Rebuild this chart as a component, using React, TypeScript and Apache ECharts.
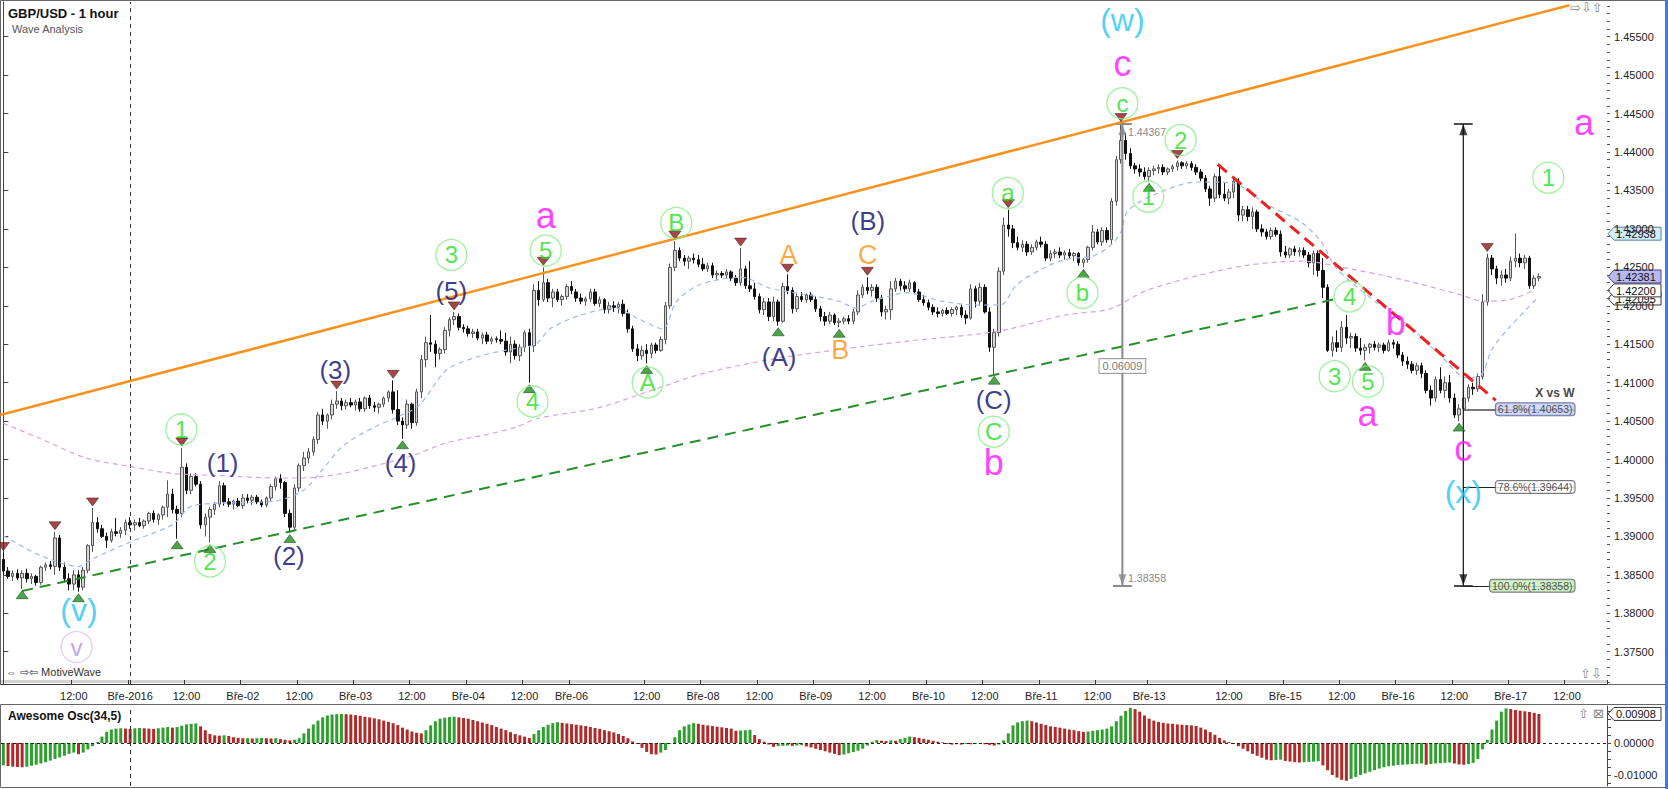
import React, { useEffect, useRef } from 'react';
import * as echarts from 'echarts';

// ---------- DATA ----------
// candles: [open, close, low, high] per hourly bar
const candlesA = [
[1.3870,1.3855,1.3850,1.3879],[1.3855,1.3848,1.3845,1.3860],[1.3848,1.3852,1.3842,1.3856],[1.3852,1.3846,1.3843,1.3857],[1.3846,1.3852,1.3832,1.3856],
[1.3852,1.3845,1.3840,1.3858],[1.3845,1.3848,1.3838,1.3852],[1.3848,1.3840,1.3836,1.3850],[1.3840,1.3860,1.3837,1.3862],[1.3860,1.3863,1.3855,1.3866],
[1.3863,1.3861,1.3857,1.3868],[1.3861,1.3898,1.3850,1.3906],[1.3898,1.3860,1.3855,1.3902],[1.3860,1.3845,1.3840,1.3866],[1.3845,1.3838,1.3830,1.3852],
[1.3838,1.3850,1.3830,1.3856],[1.3850,1.3834,1.3828,1.3856],[1.3834,1.3856,1.3830,1.3860],[1.3856,1.3888,1.3852,1.3890],[1.3888,1.3918,1.3880,1.3937],
[1.3918,1.3910,1.3905,1.3925],[1.3910,1.3900,1.3898,1.3915],[1.3900,1.3895,1.3885,1.3905],[1.3895,1.3906,1.3892,1.3910],[1.3906,1.3904,1.3900,1.3924],
[1.3904,1.3908,1.3898,1.3912],[1.3908,1.3918,1.3902,1.3922],[1.3918,1.3915,1.3910,1.3925],[1.3915,1.3918,1.3908,1.3922],[1.3918,1.3914,1.3912,1.3924],
[1.3914,1.3920,1.3910,1.3922],[1.3920,1.3930,1.3916,1.3932],[1.3930,1.3922,1.3918,1.3934],[1.3922,1.3928,1.3915,1.3930],[1.3928,1.3938,1.3922,1.3940],
[1.3938,1.3955,1.3925,1.3973],[1.3955,1.3935,1.3930,1.3962],[1.3935,1.3930,1.3897,1.3940],[1.3930,1.3990,1.3925,1.4015],[1.3990,1.3960,1.3955,1.3995],
[1.3960,1.3978,1.3955,1.3982],[1.3978,1.3968,1.3965,1.3982],[1.3968,1.3915,1.3910,1.3972],[1.3915,1.3925,1.3900,1.3930],[1.3925,1.3935,1.3892,1.3938],
[1.3935,1.3942,1.3928,1.3945],[1.3942,1.3966,1.3938,1.3972],[1.3966,1.3945,1.3940,1.3970],[1.3945,1.3942,1.3938,1.3950],[1.3942,1.3946,1.3935,1.3948],
[1.3946,1.3940,1.3938,1.3950],[1.3940,1.3950,1.3936,1.3955],[1.3950,1.3947,1.3943,1.3955],[1.3947,1.3951,1.3941,1.3954],[1.3951,1.3945,1.3942,1.3954],
[1.3945,1.3941,1.3938,1.3948],[1.3941,1.3950,1.3938,1.3952],[1.3950,1.3965,1.3946,1.3968],[1.3965,1.3975,1.3960,1.3978],[1.3975,1.3970,1.3962,1.3981],
[1.3970,1.3930,1.3925,1.3972],[1.3930,1.3912,1.3905,1.3935],[1.3912,1.3963,1.3908,1.3968],[1.3963,1.3992,1.3958,1.3995],[1.3992,1.4002,1.3985,1.4010],
[1.4002,1.4010,1.3995,1.4015],[1.4010,1.4026,1.4005,1.4030],[1.4026,1.4058,1.4020,1.4062],[1.4058,1.4050,1.4045,1.4066],[1.4050,1.4058,1.4040,1.4060],
[1.4058,1.4072,1.4052,1.4078],[1.4072,1.4076,1.4066,1.4089],[1.4076,1.4070,1.4064,1.4080],[1.4070,1.4074,1.4065,1.4078],[1.4074,1.4071,1.4068,1.4080],
[1.4071,1.4075,1.4064,1.4078],[1.4075,1.4066,1.4062,1.4080],[1.4066,1.4080,1.4062,1.4082],[1.4080,1.4070,1.4066,1.4084],[1.4070,1.4068,1.4062,1.4075],
[1.4068,1.4072,1.4060,1.4074],[1.4072,1.4080,1.4068,1.4082],[1.4080,1.4088,1.4075,1.4090],[1.4088,1.4065,1.4060,1.4103],[1.4065,1.4050,1.4045,1.4090],
[1.4050,1.4045,1.4027,1.4055],[1.4045,1.4072,1.4040,1.4078],[1.4072,1.4048,1.4040,1.4074],[1.4048,1.4088,1.4044,1.4092],[1.4088,1.4130,1.4080,1.4136],
[1.4130,1.4152,1.4120,1.4160],[1.4152,1.4150,1.4140,1.4188],[1.4150,1.4138,1.4120,1.4155],[1.4138,1.4143,1.4130,1.4146],[1.4143,1.4168,1.4138,1.4172],
[1.4168,1.4182,1.4160,1.4185],[1.4182,1.4186,1.4175,1.4192],[1.4186,1.4172,1.4168,1.4190],[1.4172,1.4170,1.4165,1.4176],[1.4170,1.4164,1.4160,1.4174],
[1.4164,1.4166,1.4158,1.4170],[1.4166,1.4158,1.4155,1.4170],[1.4158,1.4162,1.4150,1.4165],[1.4162,1.4154,1.4150,1.4166],[1.4154,1.4157,1.4150,1.4160],
[1.4157,1.4156,1.4152,1.4160],[1.4156,1.4154,1.4150,1.4168],[1.4154,1.4140,1.4135,1.4165],[1.4140,1.4150,1.4125,1.4160],[1.4150,1.4135,1.4130,1.4155],
[1.4135,1.4146,1.4128,1.4150],[1.4146,1.4165,1.4140,1.4168],[1.4165,1.4148,1.4100,1.4170],[1.4148,1.4220,1.4140,1.4228],[1.4220,1.4208,1.4200,1.4232],
[1.4208,1.4230,1.4205,1.4250],[1.4230,1.4210,1.4205,1.4235],[1.4210,1.4218,1.4198,1.4222],[1.4218,1.4208,1.4205,1.4222],[1.4208,1.4212,1.4200,1.4215],
[1.4212,1.4225,1.4208,1.4228]
];
const candlesB = [
[1.4225,1.4220,1.4215,1.4232],[1.4218,1.4210,1.4205,1.4222],[1.4210,1.4206,1.4202,1.4216],[1.4206,1.4209,1.4200,1.4212],[1.4209,1.4218,1.4205,1.4222],
[1.4218,1.4203,1.4200,1.4222],[1.4203,1.4208,1.4198,1.4212],[1.4208,1.4195,1.4190,1.4210],[1.4195,1.4200,1.4190,1.4205],[1.4200,1.4198,1.4192,1.4206],
[1.4198,1.4202,1.4190,1.4205],[1.4202,1.4190,1.4186,1.4208],[1.4190,1.4170,1.4165,1.4195],[1.4170,1.4144,1.4140,1.4174],[1.4144,1.4135,1.4128,1.4150],
[1.4135,1.4142,1.4130,1.4148],[1.4142,1.4138,1.4125,1.4150],[1.4138,1.4149,1.4132,1.4152],[1.4149,1.4142,1.4138,1.4152],[1.4142,1.4156,1.4140,1.4160],
[1.4156,1.4200,1.4150,1.4205],[1.4200,1.4250,1.4196,1.4255],[1.4250,1.4272,1.4245,1.4284],[1.4272,1.4262,1.4258,1.4276],[1.4262,1.4258,1.4252,1.4266],
[1.4258,1.4262,1.4248,1.4265],[1.4262,1.4260,1.4255,1.4268],[1.4260,1.4254,1.4250,1.4266],[1.4254,1.4248,1.4245,1.4262],[1.4248,1.4252,1.4244,1.4256],
[1.4252,1.4240,1.4236,1.4256],[1.4240,1.4242,1.4234,1.4246],[1.4242,1.4240,1.4236,1.4245],[1.4240,1.4244,1.4236,1.4248],[1.4244,1.4236,1.4232,1.4246],
[1.4236,1.4230,1.4226,1.4240],[1.4230,1.4248,1.4226,1.4275],[1.4248,1.4226,1.4222,1.4252],[1.4226,1.4222,1.4218,1.4258],[1.4222,1.4212,1.4208,1.4230],
[1.4212,1.4195,1.4190,1.4216],[1.4195,1.4205,1.4188,1.4210],[1.4205,1.4186,1.4180,1.4210],[1.4186,1.4205,1.4180,1.4212],[1.4205,1.4180,1.4174,1.4208],
[1.4180,1.4225,1.4178,1.4230],[1.4225,1.4220,1.4215,1.4241],[1.4220,1.4196,1.4190,1.4224],[1.4196,1.4212,1.4192,1.4216],[1.4212,1.4208,1.4205,1.4218],
[1.4208,1.4214,1.4204,1.4216],[1.4214,1.4208,1.4205,1.4218],[1.4208,1.4196,1.4192,1.4212],[1.4196,1.4186,1.4180,1.4200],[1.4186,1.4180,1.4174,1.4192],
[1.4180,1.4188,1.4176,1.4192],[1.4188,1.4178,1.4175,1.4190],[1.4178,1.4180,1.4172,1.4184],[1.4180,1.4183,1.4176,1.4186],[1.4183,1.4180,1.4176,1.4188],
[1.4180,1.4192,1.4176,1.4196],[1.4192,1.4214,1.4188,1.4220],[1.4214,1.4224,1.4210,1.4228],[1.4224,1.4220,1.4215,1.4237],[1.4220,1.4224,1.4212,1.4228],
[1.4224,1.4210,1.4205,1.4228],[1.4210,1.4192,1.4186,1.4214],[1.4192,1.4195,1.4182,1.4200],[1.4195,1.4222,1.4182,1.4232],[1.4222,1.4232,1.4218,1.4236],
[1.4232,1.4226,1.4220,1.4235],[1.4226,1.4222,1.4218,1.4232],[1.4222,1.4230,1.4218,1.4234],[1.4230,1.4218,1.4215,1.4232],[1.4218,1.4208,1.4205,1.4222],
[1.4208,1.4204,1.4200,1.4214],[1.4204,1.4198,1.4194,1.4208],[1.4198,1.4192,1.4188,1.4202],[1.4192,1.4190,1.4185,1.4198],[1.4190,1.4194,1.4186,1.4196],
[1.4194,1.4190,1.4188,1.4198],[1.4190,1.4195,1.4186,1.4198],[1.4195,1.4198,1.4188,1.4200],[1.4198,1.4188,1.4184,1.4202],[1.4188,1.4184,1.4176,1.4194],
[1.4184,1.4222,1.4182,1.4228],[1.4222,1.4206,1.4198,1.4226],[1.4206,1.4224,1.4200,1.4230],[1.4224,1.4192,1.4190,1.4228],[1.4192,1.4146,1.4140,1.4198],
[1.4146,1.4165,1.4111,1.4170],[1.4165,1.4245,1.4160,1.4250],[1.4245,1.4305,1.4240,1.4315],[1.4305,1.4300,1.4290,1.4325],[1.4300,1.4282,1.4275,1.4305],
[1.4282,1.4276,1.4272,1.4290],[1.4276,1.4280,1.4270,1.4285],[1.4280,1.4270,1.4265,1.4284],[1.4270,1.4276,1.4266,1.4280],[1.4276,1.4283,1.4272,1.4286],
[1.4283,1.4280,1.4276,1.4290],[1.4280,1.4262,1.4258,1.4284],[1.4262,1.4268,1.4258,1.4272],[1.4268,1.4270,1.4262,1.4274],[1.4270,1.4266,1.4262,1.4276],
[1.4266,1.4269,1.4260,1.4272],[1.4269,1.4265,1.4262,1.4274],[1.4265,1.4268,1.4258,1.4270],[1.4268,1.4256,1.4252,1.4270],[1.4256,1.4260,1.4250,1.4262],
[1.4260,1.4276,1.4256,1.4278],[1.4276,1.4296,1.4272,1.4305],[1.4296,1.4283,1.4280,1.4300],[1.4283,1.4298,1.4278,1.4302],[1.4298,1.4286,1.4282,1.4302],
[1.4286,1.4336,1.4280,1.4340],[1.4336,1.4390,1.4330,1.4395],[1.4390,1.4415,1.4385,1.4437],[1.4415,1.4398,1.4390,1.4425],[1.4398,1.4382,1.4378,1.4405],
[1.4382,1.4378,1.4372,1.4386],[1.4378,1.4374,1.4368,1.4384],[1.4374,1.4368,1.4364,1.4380]
];
const candlesC = [
[1.4368,1.4376,1.4362,1.4380],[1.4376,1.4378,1.4370,1.4382],[1.4378,1.4380,1.4372,1.4384],[1.4380,1.4374,1.4370,1.4384],[1.4374,1.4378,1.4370,1.4380],
[1.4378,1.4381,1.4374,1.4384],[1.4381,1.4386,1.4376,1.4389],[1.4386,1.4382,1.4378,1.4388],[1.4382,1.4385,1.4378,1.4388],[1.4385,1.4380,1.4376,1.4388],
[1.4380,1.4374,1.4370,1.4384],[1.4374,1.4366,1.4362,1.4378],[1.4366,1.4352,1.4348,1.4370],[1.4352,1.4340,1.4330,1.4356],[1.4340,1.4368,1.4335,1.4372],
[1.4368,1.4345,1.4340,1.4384],[1.4345,1.4340,1.4336,1.4360],[1.4340,1.4348,1.4332,1.4352],[1.4348,1.4362,1.4340,1.4366],[1.4362,1.4318,1.4310,1.4366],
[1.4318,1.4325,1.4310,1.4330],[1.4325,1.4316,1.4310,1.4330],[1.4316,1.4322,1.4300,1.4328],[1.4322,1.4300,1.4296,1.4325],[1.4300,1.4296,1.4290,1.4306],
[1.4296,1.4290,1.4286,1.4300],[1.4290,1.4298,1.4286,1.4302],[1.4298,1.4293,1.4290,1.4302],[1.4293,1.4270,1.4264,1.4298],[1.4270,1.4266,1.4262,1.4278],
[1.4266,1.4274,1.4262,1.4276],[1.4274,1.4270,1.4265,1.4278],[1.4270,1.4272,1.4264,1.4276],[1.4272,1.4266,1.4262,1.4276],[1.4266,1.4256,1.4250,1.4270],
[1.4256,1.4268,1.4240,1.4272],[1.4268,1.4246,1.4238,1.4272],[1.4246,1.4224,1.4210,1.4262],[1.4224,1.4142,1.4140,1.4228],[1.4142,1.4152,1.4134,1.4160],
[1.4152,1.4146,1.4140,1.4168],[1.4146,1.4172,1.4140,1.4180],[1.4172,1.4158,1.4150,1.4188],[1.4158,1.4160,1.4145,1.4165],[1.4160,1.4145,1.4140,1.4164],
[1.4145,1.4142,1.4136,1.4158],[1.4142,1.4146,1.4129,1.4150],[1.4146,1.4150,1.4138,1.4152],[1.4150,1.4146,1.4142,1.4154],[1.4146,1.4149,1.4140,1.4152],
[1.4149,1.4142,1.4138,1.4152],[1.4142,1.4152,1.4140,1.4156],[1.4152,1.4150,1.4144,1.4156],[1.4150,1.4136,1.4132,1.4154],[1.4136,1.4128,1.4122,1.4140],
[1.4128,1.4124,1.4118,1.4134],[1.4124,1.4116,1.4112,1.4128],[1.4116,1.4122,1.4110,1.4126],[1.4122,1.4112,1.4106,1.4126],[1.4112,1.4090,1.4086,1.4116],
[1.4090,1.4080,1.4070,1.4096],[1.4080,1.4104,1.4075,1.4108],[1.4104,1.4090,1.4086,1.4120],[1.4090,1.4100,1.4080,1.4108],[1.4100,1.4080,1.4074,1.4110],
[1.4080,1.4058,1.4054,1.4086],[1.4058,1.4066,1.4050,1.4072],[1.4066,1.4080,1.4062,1.4085],[1.4080,1.4094,1.4075,1.4098],[1.4094,1.4092,1.4084,1.4100],
[1.4092,1.4108,1.4088,1.4112],[1.4108,1.4205,1.4104,1.4215],[1.4205,1.4262,1.4200,1.4268],[1.4262,1.4248,1.4240,1.4266],[1.4248,1.4236,1.4228,1.4252],
[1.4236,1.4240,1.4226,1.4246],[1.4240,1.4236,1.4230,1.4248],[1.4236,1.4258,1.4232,1.4264],[1.4258,1.4262,1.4250,1.4294],[1.4262,1.4256,1.4250,1.4268],
[1.4256,1.4262,1.4248,1.4266],[1.4262,1.4226,1.4222,1.4265],[1.4226,1.4236,1.4222,1.4240],[1.4236,1.4238,1.4232,1.4242]
];

// Awesome Oscillator(34,5) bar values
const aoA = [
-0.0070,-0.0072,-0.0074,-0.0075,-0.0076,-0.0074,-0.0071,-0.0068,-0.0064,-0.0060,
-0.0055,-0.0050,-0.0045,-0.0040,-0.0034,-0.0030,-0.0035,-0.0030,-0.0020,-0.0010,
0.0003,0.0020,0.0035,0.0042,0.0045,0.0046,0.0045,0.0044,0.0046,0.0047,
0.0046,0.0045,0.0044,0.0046,0.0048,0.0050,0.0048,0.0050,0.0054,0.0058,
0.0060,0.0061,0.0052,0.0040,0.0028,0.0024,0.0023,0.0024,0.0022,0.0018,
0.0016,0.0015,0.0015,0.0014,0.0015,0.0016,0.0015,0.0014,0.0015,0.0012,
0.0010,0.0008,0.0010,0.0015,0.0030,0.0045,0.0058,0.0070,0.0080,0.0086,
0.0089,0.0090,0.0091,0.0090,0.0089,0.0087,0.0085,0.0082,0.0080,0.0077,
0.0074,0.0070,0.0066,0.0062,0.0056,0.0048,0.0042,0.0036,0.0032,0.0030,
0.0040,0.0055,0.0068,0.0076,0.0079,0.0081,0.0082,0.0080,0.0078,0.0076,
0.0072,0.0068,0.0064,0.0060,0.0056,0.0050,0.0045,0.0040,0.0034,0.0028,
0.0024,0.0020,0.0016,0.0028,0.0040,0.0050,0.0057,0.0062,0.0065,0.0063,
0.0061
];
const aoB = [
0.0059,0.0057,0.0055,0.0053,0.0050,0.0047,0.0044,0.0040,0.0037,0.0033,
0.0028,0.0022,0.0015,0.0005,-0.0003,-0.0015,-0.0028,-0.0035,-0.0036,-0.0030,
-0.0022,-0.0002,0.0018,0.0040,0.0052,0.0058,0.0062,0.0060,0.0057,0.0055,
0.0053,0.0051,0.0049,0.0047,0.0045,0.0038,0.0039,0.0040,0.0041,0.0025,
0.0012,0.0004,-0.0005,-0.0012,-0.0010,-0.0009,-0.0008,-0.0009,-0.0008,-0.0007,
-0.0011,-0.0014,-0.0018,-0.0022,-0.0026,-0.0030,-0.0034,-0.0038,-0.0036,-0.0032,
-0.0028,-0.0024,-0.0018,-0.0008,0.0004,0.0009,0.0007,0.0006,0.0008,0.0007,
0.0012,0.0016,0.0020,0.0018,0.0016,0.0013,0.0010,0.0007,0.0004,0.0002,
-0.0003,-0.0005,-0.0004,-0.0005,-0.0003,-0.0004,-0.0003,-0.0002,-0.0004,-0.0006,
-0.0008,-0.0005,0.0008,0.0030,0.0055,0.0064,0.0068,0.0070,0.0068,0.0064,
0.0060,0.0056,0.0052,0.0050,0.0048,0.0045,0.0042,0.0040,0.0037,0.0035,
0.0036,0.0038,0.0040,0.0042,0.0045,0.0052,0.0068,0.0085,0.0100,0.0110,
0.0106,0.0098,0.0086
];
const aoC = [
0.0076,0.0070,0.0066,0.0063,0.0061,0.0060,0.0058,0.0057,0.0056,0.0055,
0.0053,0.0048,0.0042,0.0034,0.0026,0.0016,0.0008,0.0003,-0.0003,-0.0010,
-0.0018,-0.0026,-0.0034,-0.0040,-0.0046,-0.0052,-0.0054,-0.0053,-0.0052,-0.0056,
-0.0058,-0.0060,-0.0061,-0.0060,-0.0059,-0.0058,-0.0057,-0.0070,-0.0085,-0.0100,
-0.0108,-0.0115,-0.0118,-0.0112,-0.0106,-0.0100,-0.0095,-0.0090,-0.0085,-0.0080,
-0.0076,-0.0073,-0.0071,-0.0069,-0.0068,-0.0067,-0.0066,-0.0065,-0.0064,-0.0068,
-0.0066,-0.0064,-0.0063,-0.0062,-0.0061,-0.0064,-0.0067,-0.0068,-0.0066,-0.0062,
-0.0050,-0.0020,0.0010,0.0042,0.0070,0.0098,0.0108,0.0106,0.0103,0.0101,
0.0099,0.0097,0.0094,0.0091
];

// moving averages read as [bar index, price]
const blueMA = [[0,1.3901],[8,1.3875],[16.1,1.3861],[18.4,1.3869],[27.1,1.3893],[35.9,1.3915],[40.3,1.3940],[50.5,1.3944],[57.9,1.3946],[63.7,1.3959],[67.3,1.3982],[72.4,1.4018],[79.9,1.4045],[83.5,1.4054],[88.6,1.4071],[94.5,1.4117],[101.8,1.4135],[107.7,1.4143],[113.4,1.4150],[116.4,1.4170],[123,1.4188],[130.2,1.4197],[135.3,1.4183],[140.4,1.4170],[143.4,1.4206],[148.5,1.4228],[157.3,1.4237],[163.2,1.4223],[170.5,1.4215],[177.9,1.4206],[181.5,1.4197],[185.1,1.4206],[192.5,1.4217],[199.8,1.4206],[207.2,1.4201],[212.3,1.4201],[215.9,1.4228],[221.9,1.4250],[226.1,1.4260],[232.1,1.4265],[235.7,1.4278],[238,1.4296],[239.4,1.4323],[245.3,1.4345],[254.2,1.4361],[261.6,1.4360],[269,1.4332],[276.3,1.4309],[280.8,1.4282],[283.7,1.4250],[291.2,1.4210],[298.5,1.4178],[305.8,1.4137],[311.8,1.4106],[314.8,1.4111],[317,1.4143],[320.7,1.4172],[326.7,1.4210]];
const purpleMA = [[0,1.4047],[8,1.4027],[17.6,1.4002],[27.1,1.3991],[35.9,1.3982],[46.9,1.3979],[57.9,1.3976],[63.7,1.3976],[72.4,1.3982],[79.9,1.3993],[87.1,1.4005],[94.5,1.4022],[101.8,1.4031],[109.1,1.4042],[114.1,1.4054],[126.6,1.4067],[137.6,1.4089],[148.5,1.4111],[163.2,1.4130],[177.9,1.4143],[192.5,1.4154],[207.2,1.4163],[214.4,1.4170],[226.1,1.4188],[235.7,1.4196],[243.1,1.4219],[254.2,1.4239],[265.3,1.4253],[276.3,1.4258],[287.7,1.4247],[298.5,1.4233],[309.9,1.4215],[315.4,1.4206],[320.7,1.4208],[326,1.4220]];

// trend lines [bar index, price]
const orangeTrend = [[-0.7,1.4058],[333.5,1.4591]];
const greenTrend = [[4,1.3829],[284.6,1.4210]];
const redTrend = [[258.6,1.4384],[317.8,1.4077]];

// measurements
const wMeasure = { idx: 238.3, top: 1.44367, bottom: 1.38358, diff: '0.06009' };
const xMeasure = { idx: 310.9, top: 1.44367, bottom: 1.38358 };
const fibLevels: [string, number][] = [['61.8%', 1.40653], ['78.6%', 1.39644], ['100.0%', 1.38358]];

// swing markers (bar indices)
const highMarks = [0, 11, 19, 38, 71, 83, 96, 115, 143, 157, 167, 184, 214, 238, 250, 316];
const lowMarks = [4, 16, 37, 44, 61, 85, 112, 137, 165, 178, 211, 230, 244, 290, 310];

// wave labels [text, bar index, price]
const greenCircled: [string, number, number][] = [
  ['c',238.3,1.44634],['2',250.7,1.44156],['1',243.8,1.43419],['a',213.9,1.43467],['b',229.8,1.42168],
  ['4',286.7,1.42122],['3',283.5,1.41083],['5',290.6,1.41014],['1',329,1.43666],['C',210.9,1.40362],
  ['B',143.3,1.43077],['A',137.2,1.41002],['5',115.5,1.42718],['4',112.7,1.40756],['3',95.4,1.42661],
  ['1',37.9,1.40392],['2',44,1.38675]
];
const navyLabels: [string, number, number][] = [
  ['(1)',46.7,1.39952],['(2)',60.8,1.38743],['(3)',70.7,1.41162],['(4)',84.6,1.39952],['(5)',95.4,1.42192],
  ['(A)',165.2,1.41339],['(B)',184.1,1.43108],['(C)',210.9,1.40778]
];
const magentaLabels: [string, number, number][] = [
  ['a',115.5,1.43176],['c',238.3,1.45145],['b',210.9,1.39955],['a',290.5,1.40605],['b',296.5,1.41783],
  ['c',310.9,1.40146],['a',336.6,1.44381]
];
const cyanLabels: [string, number, number][] = [['(w)',238.3,1.45717],['(x)',310.9,1.39582],['(v)',16.1,1.38042]];
const orangeLabels: [string, number, number][] = [['A',167.2,1.4266],['B',178.2,1.41427],['C',184.1,1.4266]];
const purpleCircled: [string, number, number][] = [['v',15.6,1.37561]];

// axes
const xTickLabels: [number, string][] = [
  [15,'12:00'],[27,'Bře-2016'],[39,'12:00'],[51,'Bře-02'],[63,'12:00'],[75,'Bře-03'],[87,'12:00'],[99,'Bře-04'],
  [111,'12:00'],[121,'Bře-06'],[137,'12:00'],[149,'Bře-08'],[161,'12:00'],[173,'Bře-09'],[185,'12:00'],[197,'Bře-10'],
  [209,'12:00'],[221,'Bře-11'],[233,'12:00'],[244,'Bře-13'],[261,'12:00'],[273,'Bře-15'],[285,'12:00'],[297,'Bře-16'],
  [309,'12:00'],[321,'Bře-17'],[333,'12:00']
];
const monthStartIndex = 27;
const priceTicks = [1.375,1.38,1.385,1.39,1.395,1.40,1.405,1.41,1.415,1.42,1.425,1.43,1.435,1.44,1.445,1.45,1.455];
// right-axis value tags [value, background, border], drawn in this order
const priceTags: [number, string, string][] = [
  [1.42095, '#ffffff', '#333333'],
  [1.42200, '#ffffff', '#333333'],
  [1.42938, '#d3edf9', '#5d7f96'],
  [1.42381, '#b8b8f3', '#45458a'],
];
const aoTicks = [-0.0125,-0.01,-0.0075,-0.005,-0.0025,0,0.0025,0.005,0.0075,0.01];
const aoLabels = [0, -0.01];
const aoLastTag = 0.00908;

// ---------- CHART ----------
const FONT = '"Liberation Sans", Arial, sans-serif';
const N = 342;
const PMIN = 1.370804, PMAX = 1.459513;
const CLEAR = 'rgba(0,0,0,0)';

function textSeries(items: [string, number, number][], color: string, size: number, circle?: { size: number; stroke: string }) {
  return {
    type: 'scatter', xAxisIndex: 1, yAxisIndex: 0, silent: true, z: 20,
    symbol: 'circle',
    symbolSize: circle ? circle.size : 0.1,
    itemStyle: circle ? { color: 'rgba(255,255,255,0)', borderColor: circle.stroke, borderWidth: 1.3 } : { color: CLEAR },
    label: { show: true, position: 'inside', formatter: '{b}', color, fontSize: size, fontFamily: FONT },
    data: items.map(([t, x, y]) => ({ name: t, value: [x, y] })),
  };
}

function lineSeries(data: number[][], color: string, width: number, type: any, extra: any = {}) {
  return {
    type: 'line', xAxisIndex: 1, yAxisIndex: 0, silent: true, showSymbol: false, symbol: 'none', z: 6,
    lineStyle: { color, width, type }, data, animation: false, ...extra,
  };
}

function segment(x1: number, y1: number, x2: number, y2: number, color: string, width: number) {
  return [
    { coord: [x1, y1], lineStyle: { color, width, type: 'solid' } },
    { coord: [x2, y2] },
  ];
}

function tagGraphic(y: number, text: string, bg: string, border: string) {
  const x0 = 1608, x1 = 1614, x2 = 1661, h = 6.5;
  return {
    type: 'group', silent: true, z: 50,
    children: [
      { type: 'polygon', shape: { points: [[x0, y], [x1, y - h], [x2, y - h], [x2, y + h], [x1, y + h]] }, style: { fill: bg, stroke: border, lineWidth: 1 } },
      { type: 'text', style: { text, x: 1616, y: y + 0.5, verticalAlign: 'middle', textVerticalAlign: 'middle', font: `11px ${FONT}`, fill: '#111' } },
    ],
  };
}

export default function App() {
  const ref = useRef<HTMLDivElement>(null);
  useEffect(() => {
    document.body.style.margin = '0';
    const chart = echarts.init(ref.current!, null, { renderer: 'svg' });
    const candles = [...candlesA, ...candlesB, ...candlesC];
    const ao = [...aoA, ...aoB, ...aoC];
    const categories = Array.from({ length: N }, (_, i) => String(i));
    const tickMap: Record<number, string> = {};
    xTickLabels.forEach(([i, t]) => { tickMap[i] = t; });
    const minorTicks: number[] = [];
    for (let k = 1371; k <= 1459; k++) minorTicks.push(k / 1000);

    const aoData = ao.map((v, i) => ({
      value: v,
      itemStyle: { color: i === 0 || v >= ao[i - 1] ? '#2f9f2f' : '#b02a2a' },
    }));

    const cap = 2;
    const boxRight = 334.6;

    const baseGraphic: any[] = [
      { type: 'rect', silent: true, z: -1, shape: { x: 0.5, y: 0.5, width: 1665, height: 684 }, style: { fill: 'none', stroke: '#666', lineWidth: 1 } },
      { type: 'rect', silent: true, z: -1, shape: { x: 1, y: 680, width: 1606, height: 3 }, style: { fill: '#d4d4d4' } },
      { type: 'rect', silent: true, z: -1, shape: { x: 0.5, y: 704.5, width: 1665, height: 83 }, style: { fill: 'none', stroke: '#666', lineWidth: 1 } },
      { type: 'line', silent: true, shape: { x1: 1666.5, y1: 0, x2: 1666.5, y2: 789 }, style: { stroke: '#3b7dd8', lineWidth: 3 } },
      { type: 'text', left: 8, top: 7, silent: true, style: { text: 'GBP/USD - 1 hour', font: `bold 13px ${FONT}`, fill: '#111' } },
      { type: 'text', left: 12, top: 23, silent: true, style: { text: 'Wave Analysis', font: `11px ${FONT}`, fill: '#555' } },
      { type: 'text', left: 6, top: 666, silent: true, style: { text: '⇔ ⇨⇦ MotiveWave', font: `11px ${FONT}`, fill: '#333' } },
      { type: 'text', left: 8, top: 710, silent: true, style: { text: 'Awesome Osc(34,5)', font: `bold 12px ${FONT}`, fill: '#111' } },
      { type: 'text', left: 1570, top: 1, silent: true, style: { text: '⇨⇩⇧', font: `13px "DejaVu Sans"`, fill: '#888' } },
      { type: 'text', left: 1580, top: 667, silent: true, style: { text: '⇧⇩', font: `13px "DejaVu Sans"`, fill: '#888' } },
      { type: 'text', left: 1578, top: 707, silent: true, style: { text: '⇧ ⊠', font: `13px "DejaVu Sans"`, fill: '#888' } },
    ];

    const option: any = {
      animation: false,
      backgroundColor: '#ffffff',
      textStyle: { fontFamily: FONT },
      grid: [
        { left: 1, top: 2, width: 1606, height: 682 },
        { left: 1, top: 706, width: 1606, height: 80 },
      ],
      xAxis: [
        {
          type: 'category', gridIndex: 0, data: categories, boundaryGap: true,
          axisLine: { show: true, lineStyle: { color: '#333', width: 1 } },
          axisTick: { show: true, inside: true, length: 4, interval: (i: number) => tickMap[i] !== undefined, lineStyle: { color: '#333' } },
          axisLabel: { show: true, interval: (i: number) => tickMap[i] !== undefined, formatter: (_v: string, i: number) => tickMap[i] || '', color: '#222', fontSize: 11, margin: 6, fontFamily: FONT },
          splitLine: { show: false },
        },
        { type: 'value', gridIndex: 0, min: -0.5, max: N - 0.5, show: false },
        { type: 'category', gridIndex: 1, data: categories, boundaryGap: true, show: false },
      ],
      yAxis: [
        {
          type: 'value', gridIndex: 0, position: 'right', min: PMIN, max: PMAX,
          splitLine: { show: false },
          axisLine: { show: true, lineStyle: { color: '#444' } },
          axisTick: { show: true, length: 5, customValues: priceTicks, lineStyle: { color: '#444' } },
          axisLabel: { show: true, customValues: priceTicks, formatter: (v: number) => v.toFixed(5), color: '#222', fontSize: 11, margin: 7, fontFamily: FONT },
        },
        {
          type: 'value', gridIndex: 0, position: 'right', min: PMIN, max: PMAX,
          splitLine: { show: false }, axisLine: { show: false },
          axisTick: { show: true, length: 3, customValues: minorTicks, lineStyle: { color: '#555' } },
          axisLabel: { show: false },
        },
        {
          type: 'value', gridIndex: 1, position: 'right', min: -0.01344, max: 0.01156,
          splitLine: { show: false },
          axisLine: { show: true, lineStyle: { color: '#444' } },
          axisTick: { show: true, length: 4, customValues: aoTicks, lineStyle: { color: '#444' } },
          axisLabel: { show: true, customValues: aoLabels, formatter: (v: number) => v.toFixed(5), color: '#222', fontSize: 11, margin: 7, fontFamily: FONT },
        },
      ],
      series: [
        {
          type: 'candlestick', xAxisIndex: 0, yAxisIndex: 0, data: candles, barWidth: 3, z: 4, silent: true,
          itemStyle: { color: '#d6d6d6', color0: '#111111', borderColor: '#555555', borderColor0: '#111111', borderWidth: 1 },
          markLine: {
            silent: true, symbol: ['none', 'none'], animation: false,
            data: [
              { xAxis: monthStartIndex, lineStyle: { color: '#333', type: [4, 4], width: 1 }, label: { show: false } },
            ],
          },
        },
        lineSeries(blueMA, '#9fb8f2', 1.2, [5, 4], { smooth: 0.3 }),
        lineSeries(purpleMA, '#d9a2dd', 1.2, [5, 4], { smooth: 0.3 }),
        lineSeries(orangeTrend, '#f7921e', 2.5, 'solid'),
        lineSeries(greenTrend, '#23902a', 2, [11, 7]),
        lineSeries(redTrend, '#ee2020', 3, [12, 7]),
        lineSeries([[wMeasure.idx, wMeasure.top], [wMeasure.idx, wMeasure.bottom]], '#8a8a8a', 2, 'solid', {
          markLine: {
            silent: true, symbol: ['none', 'none'], label: { show: false },
            data: [
              segment(wMeasure.idx - cap, wMeasure.top, wMeasure.idx + cap, wMeasure.top, '#8a8a8a', 2),
              segment(wMeasure.idx - cap, wMeasure.bottom, wMeasure.idx + cap, wMeasure.bottom, '#8a8a8a', 2),
            ],
          },
        }),
        lineSeries([[xMeasure.idx, xMeasure.top], [xMeasure.idx, xMeasure.bottom]], '#111', 1.2, 'solid', {
          markLine: {
            silent: true, symbol: ['none', 'none'], label: { show: false },
            data: [
              segment(xMeasure.idx - cap, xMeasure.top, xMeasure.idx + cap, xMeasure.top, '#111', 1.5),
              segment(xMeasure.idx - cap, xMeasure.bottom, xMeasure.idx + cap, xMeasure.bottom, '#111', 1.5),
              ...fibLevels.map(([, v], k) => segment(xMeasure.idx, v, boxRight, v, k === 0 ? '#777' : '#222', k === 0 ? 2 : 1)),
            ],
          },
        }),
        {
          type: 'scatter', xAxisIndex: 1, yAxisIndex: 0, silent: true, z: 8,
          symbol: 'triangle', symbolSize: [12, 8], symbolRotate: 180, symbolOffset: [0, -6],
          itemStyle: { color: '#8c1a1a', borderColor: '#3a0808', borderWidth: 0.6 },
          data: highMarks.map(i => [i, candles[i][3]]),
        },
        {
          type: 'scatter', xAxisIndex: 1, yAxisIndex: 0, silent: true, z: 8,
          symbol: 'triangle', symbolSize: [12, 8], symbolOffset: [0, 6],
          itemStyle: { color: '#1f8c1f', borderColor: '#0a3a0a', borderWidth: 0.6 },
          data: lowMarks.map(i => [i, candles[i][2]]),
        },
        {
          type: 'scatter', xAxisIndex: 1, yAxisIndex: 0, silent: true, z: 9,
          symbol: 'triangle', symbolSize: [8, 11],
          data: [
            { value: [wMeasure.idx, wMeasure.top], symbolOffset: [0, 6], itemStyle: { color: '#8a8a8a' } },
            { value: [wMeasure.idx, wMeasure.bottom], symbolOffset: [0, -6], symbolRotate: 180, itemStyle: { color: '#8a8a8a' } },
            { value: [xMeasure.idx, xMeasure.top], symbolOffset: [0, 6], itemStyle: { color: '#111' } },
            { value: [xMeasure.idx, xMeasure.bottom], symbolOffset: [0, -6], symbolRotate: 180, itemStyle: { color: '#111' } },
          ],
        },
        {
          type: 'scatter', xAxisIndex: 1, yAxisIndex: 0, silent: true, z: 12, symbolSize: 0.1, itemStyle: { color: CLEAR },
          data: [
            { name: wMeasure.top.toFixed(5), value: [wMeasure.idx + 1.2, 1.44259], label: { show: true, position: 'right', distance: 0, formatter: '{b}', color: '#666', fontSize: 10.5, fontFamily: FONT } },
            { name: wMeasure.bottom.toFixed(5), value: [wMeasure.idx + 1.2, 1.38464], label: { show: true, position: 'right', distance: 0, formatter: '{b}', color: '#666', fontSize: 10.5, fontFamily: FONT } },
            { name: wMeasure.diff, value: [wMeasure.idx, 1.41217], label: { show: true, position: 'inside', formatter: '{b}', color: '#555', fontSize: 11, fontFamily: FONT, backgroundColor: '#fff', borderColor: '#888', borderWidth: 1, padding: [2, 3, 1, 3] } },
            { name: 'X vs W', value: [boxRight, 1.40866], label: { show: true, position: 'left', distance: 0, formatter: '{b}', color: '#111', fontSize: 12, fontWeight: 'bold', fontFamily: FONT } },
            ...fibLevels.map(([p, v], k) => ({
              name: `${p}(${v.toFixed(5)})`, value: [boxRight, v],
              label: { show: true, position: 'left', distance: 0, formatter: '{b}', color: '#222', fontSize: 10.5, fontFamily: FONT, backgroundColor: k === 0 ? '#c9d2f7' : k === 2 ? '#c9f0c0' : '#ffffff', borderColor: k === 0 ? '#4a5590' : '#555', borderWidth: 1, borderRadius: 3, padding: [1, 2, 0, 2] },
            })),
          ],
        },
        textSeries(greenCircled, '#1ee01e', 24, { size: 31, stroke: '#86ef86' }),
        textSeries(purpleCircled, '#b38af0', 24, { size: 31, stroke: '#dcc0f8' }),
        textSeries(navyLabels, '#0a0a6e', 26),
        textSeries(magentaLabels, '#ff10ff', 36),
        textSeries(cyanLabels, '#22c6f6', 32),
        textSeries(orangeLabels, '#ff9410', 27),
        {
          type: 'bar', xAxisIndex: 2, yAxisIndex: 2, data: aoData, barWidth: 3, silent: true,
          markLine: {
            silent: true, symbol: ['none', 'none'], animation: false,
            data: [
              { yAxis: 0, lineStyle: { color: '#222', type: [3, 3], width: 1 }, label: { show: false } },
              { xAxis: monthStartIndex, lineStyle: { color: '#333', type: [4, 4], width: 1 }, label: { show: false } },
            ],
          },
        },
      ],
      graphic: baseGraphic,
    };
    chart.setOption(option);

    // value tags on the right axes, placed through the axes' own scales
    const tags = priceTags.map(([v, bg, bc]) => tagGraphic(chart.convertToPixel({ yAxisIndex: 0 }, v) as number, v.toFixed(5), bg, bc));
    tags.push(tagGraphic(chart.convertToPixel({ yAxisIndex: 2 }, aoLastTag) as number, aoLastTag.toFixed(5), '#ffffff', '#333333'));
    chart.setOption({ graphic: [...baseGraphic, ...tags] });

    return () => chart.dispose();
  }, []);
  return <div ref={ref} style={{ width: 1668, height: 789 }} />;
}
